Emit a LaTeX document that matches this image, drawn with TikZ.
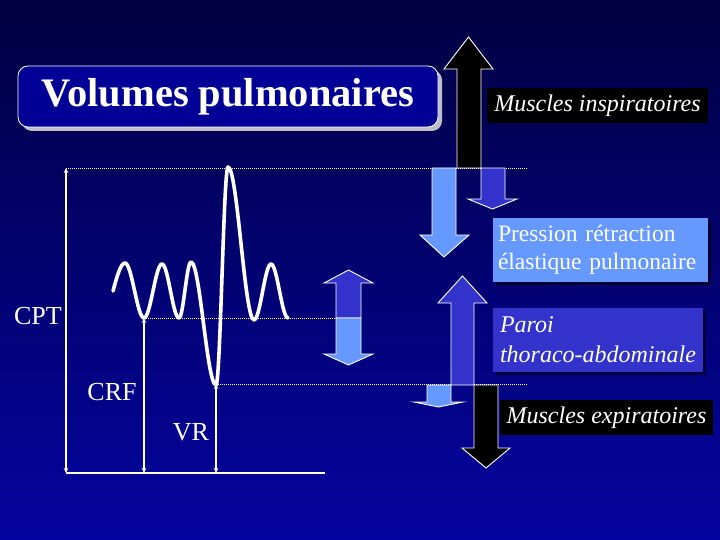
\documentclass[tikz,border=0pt]{standalone}
\usepackage{fontspec}
\setmainfont{Liberation Serif}
\usetikzlibrary{arrows.meta,shadows}
\definecolor{bgtop}{RGB}{0,0,66}
\definecolor{bgbot}{RGB}{4,4,160}
\definecolor{titleblue}{RGB}{0,0,150}
\definecolor{lightb}{RGB}{102,153,255}
\definecolor{midb}{RGB}{51,51,204}
\definecolor{shadowgray}{RGB}{190,190,200}
\tikzset{
  dots/.style={white, line width=0.8pt, dash pattern=on 1pt off 1pt},
  measure/.style={white, line width=1.5pt, {Stealth[length=5pt,width=4.5pt]}-{Stealth[length=5pt,width=4.5pt]}},
  wave/.style={white, line width=3.6pt, line cap=round, line join=round},
  blockarrow/.style={draw=white, line width=0.9pt, line join=miter},
  labeltext/.style={text=white, font=\fontsize{26}{30}\selectfont, inner sep=0pt},
  infobox/.style={text=white, inner ysep=2pt, inner xsep=7pt, align=left},
  boxshadow/.style={drop shadow={shadow xshift=3pt, shadow yshift=-3pt, fill=black, opacity=0.55}}
}
\begin{document}
\begin{tikzpicture}[x=1pt,y=-1pt]
\useasboundingbox (0,0) rectangle (720,540);
\shade[top color=bgtop, bottom color=bgbot] (0,0) rectangle (720,540);

% title
\node[draw=white, line width=0.8pt, fill=titleblue, rounded corners=10pt,
      minimum width=420pt, minimum height=61pt, text=white,
      font=\bfseries\fontsize{40.5}{44}\selectfont,
      drop shadow={shadow xshift=4pt, shadow yshift=-4pt, fill=shadowgray, opacity=1}]
      (title) at (228,96.5) {Volumes pulmonaires};

% reference coordinates
\coordinate (cptTop) at (66,168);
\coordinate (cptBot) at (66,473);
\coordinate (crfTop) at (144,318);
\coordinate (crfBot) at (144,473);
\coordinate (vrTop) at (216,384);
\coordinate (vrBot) at (216,473);
\coordinate (baseEnd) at (325,473);
\coordinate (topEnd) at (527,168);
\coordinate (crfEnd) at (336,318);
\coordinate (vrEnd) at (528,384);

% dotted level lines
\draw[dots] (cptTop) -- (topEnd);
\draw[dots] (crfTop) -- (crfEnd);
\draw[dots] (vrTop) -- (vrEnd);

% base line and measure arrows
\draw[white, line width=1.5pt] (cptBot) -- (baseEnd);
\draw[measure] (cptTop) -- (cptBot);
\draw[measure] (crfTop) -- (crfBot);
\draw[measure] (vrTop) -- (vrBot);

% breathing wave
\draw[wave] (113,291) sin (125,263) cos (134.5,290.5) sin (144,318)
  cos (153,291) sin (162,264) cos (170.5,291) sin (179,318)
  cos (185,290) sin (191,262) cos (203.5,323.5) sin (216,385)
  cos (222,276) sin (228,167) cos (241,243.5) sin (254,320)
  cos (262.5,292) sin (271,264) cos (279.5,291) sin (288,318);

% labels
\node[labeltext] (cpt) at (38,316) {CPT};
\node[labeltext] (crf) at (112,392) {CRF};
\node[labeltext] (vr) at (191,432) {VR};

% top composite arrows
\filldraw[blockarrow, fill=lightb] (432,168) -- (432,235) -- (420,235) -- (444,257) -- (469,235) -- (456,235) -- (456,168) -- cycle;
\filldraw[blockarrow, fill=midb] (481,168) -- (481,199) -- (468,199) -- (492.5,209) -- (517,199) -- (505,199) -- (505,168) -- cycle;
\filldraw[blockarrow, fill=black] (457,168) -- (457,69) -- (444,69) -- (468.5,37) -- (493,69) -- (481,69) -- (481,168) -- cycle;

% middle double arrow
\filldraw[blockarrow, fill=midb] (336,318) -- (336,283) -- (324,283) -- (348.5,270) -- (373,283) -- (361,283) -- (361,318) -- cycle;
\filldraw[blockarrow, fill=lightb] (336,318) -- (336,354) -- (324,354) -- (348.5,365) -- (373,354) -- (361,354) -- (361,318) -- cycle;

% lower composite arrows
\filldraw[blockarrow, fill=midb] (451,385) -- (451,303) -- (438,303) -- (462.5,276) -- (487,303) -- (474,303) -- (474,385) -- cycle;
\filldraw[blockarrow, fill=lightb] (427,385) -- (427,402) -- (414,402) -- (438.5,407) -- (463,402) -- (451,402) -- (451,385) -- cycle;
\filldraw[blockarrow, fill=black] (474,385) -- (474,448) -- (462,448) -- (486,468) -- (510,448) -- (498,448) -- (498,385) -- cycle;

% text boxes
\node[infobox, fill=black, minimum width=221pt, minimum height=35pt,
      font=\itshape\fontsize{24}{28}\selectfont]
      (insp) at (597.5,105.5) {Muscles inspiratoires};
\node[infobox, boxshadow, fill=lightb, minimum width=215pt, minimum height=64pt,
      inner xsep=5pt, text width=205pt, font=\fontsize{23.5}{28}\selectfont]
      (press) at (600.5,250) {Pression rétraction\\élastique pulmonaire};
\node[infobox, boxshadow, fill=midb, minimum width=210pt, minimum height=64pt,
      text width=196pt, font=\itshape\fontsize{24}{30}\selectfont]
      (paroi) at (598,340) {Paroi\\thoraco-abdominale};
\node[infobox, fill=black, minimum width=213pt, minimum height=35pt,
      font=\itshape\fontsize{24}{28}\selectfont]
      (exp) at (606.5,417.5) {Muscles expiratoires};
\end{tikzpicture}
\end{document}
